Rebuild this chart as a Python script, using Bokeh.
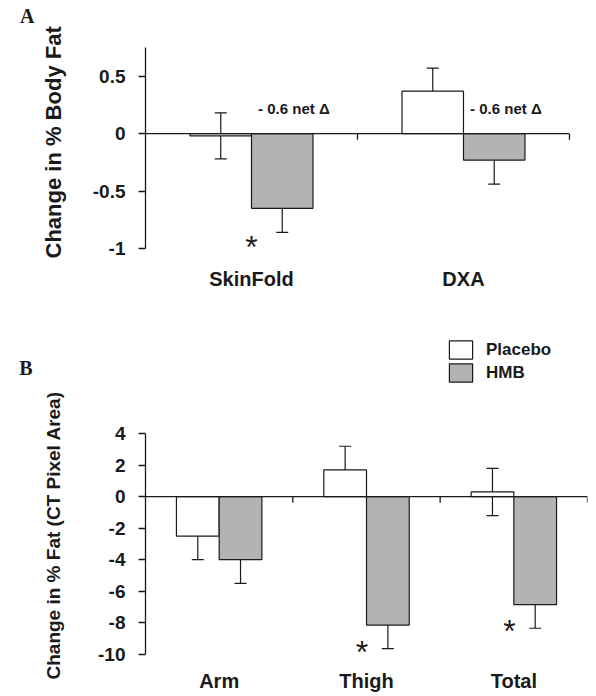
import numpy as np
from bokeh.plotting import figure
from bokeh.layouts import column
from bokeh.models import (ColumnDataSource, Range1d, FixedTicker, Whisker, TeeHead,
                          Title, Legend, LegendItem, LinearAxis)
from bokeh.core.properties import value
from bokeh.embed import file_html
from bokeh.resources import INLINE

# ---------------- data ----------------
# Panel A: change in % body fat
categories_a = ["SkinFold", "DXA"]
placebo_a = [-0.02, 0.37]
placebo_err_a = [0.20, 0.20]
hmb_a = [-0.65, -0.23]
hmb_err_a = [0.21, 0.21]
significant_a = [True, False]
net_text_a = ["- 0.6 net \u0394", "- 0.6 net \u0394"]
yticks_a = [0.5, 0, -0.5, -1]
ytick_labels_a = ["0.5", "0", "-0.5", "-1"]

# Panel B: change in % fat (CT pixel area)
categories_b = ["Arm", "Thigh", "Total"]
placebo_b = [-2.5, 1.7, 0.3]
placebo_err_b = [1.5, 1.5, 1.5]
hmb_b = [-4.0, -8.15, -6.85]
hmb_err_b = [1.5, 1.5, 1.5]
significant_b = [False, True, True]
yticks_b = [4, 2, 0, -2, -4, -6, -8, -10]
ytick_labels_b = ["4", "2", "0", "-2", "-4", "-6", "-8", "-10"]

series_names = ["Placebo", "HMB"]

# ---------------- style ----------------
FONT = "Liberation Sans"
SERIF = "Liberation Serif"
HMB_FILL = "#b3b3b3"
INK = "#1a1a1a"
BAR_W = 0.29
OFF = 0.145
FIG_W = 590
BORDER_L = 145
BORDER_R = 3


def base_figure(height, x_end, y0, y1, border_bottom):
    p = figure(width=FIG_W, height=height, x_range=Range1d(0, x_end), y_range=Range1d(y0, y1),
               output_backend="svg", toolbar_location=None, title=None,
               min_border_left=BORDER_L, min_border_right=BORDER_R,
               min_border_top=0, min_border_bottom=border_bottom)
    p.xgrid.visible = False
    p.ygrid.visible = False
    p.outline_line_color = None
    p.background_fill_color = "white"
    p.border_fill_color = "white"
    return p


def style_axes(p, cats, yticks, ylabels, bounds, cat_standoff):
    n = len(cats)
    centers = [i + 0.5 for i in range(n)]
    ya = p.yaxis[0]
    ya.ticker = FixedTicker(ticks=yticks)
    ya.major_label_overrides = dict(zip(yticks, ylabels))
    ya.bounds = bounds
    ya.axis_line_color = INK
    ya.axis_line_width = 1.3
    ya.major_tick_line_color = INK
    ya.major_tick_line_width = 1.3
    ya.major_tick_out = 7
    ya.major_tick_in = 0
    ya.minor_tick_line_color = None
    ya.major_label_standoff = 13
    ya.major_label_text_font = FONT
    ya.major_label_text_font_style = "bold"
    ya.major_label_text_font_size = "19px"
    ya.major_label_text_color = INK

    xa = p.xaxis[0]
    xa.ticker = FixedTicker(ticks=centers)
    xa.major_label_overrides = dict(zip(centers, cats))
    xa.axis_line_color = None
    xa.major_tick_line_color = None
    xa.minor_tick_line_color = None
    xa.major_tick_out = 0
    xa.major_tick_in = 0
    xa.major_label_standoff = cat_standoff
    xa.major_label_text_font = FONT
    xa.major_label_text_font_style = "bold"
    xa.major_label_text_font_size = "20px"
    xa.major_label_text_color = INK


def add_side_texts(p, ylabel, ylabel_size, title_offset, title_standoff,
                   letter, letter_y, letter_standoff):
    p.add_layout(Title(text=ylabel, align="left", vertical_align="top",
                       offset=title_offset, standoff=title_standoff,
                       text_font=FONT, text_font_style="bold", text_font_size=ylabel_size,
                       text_color=INK), "left")
    la = LinearAxis(ticker=FixedTicker(ticks=[letter_y]),
                    major_label_overrides={letter_y: letter},
                    axis_line_color=None, major_tick_line_color=None,
                    minor_tick_line_color=None, major_tick_out=0, major_tick_in=0,
                    major_label_standoff=letter_standoff,
                    major_label_text_font=SERIF, major_label_text_font_style="bold",
                    major_label_text_font_size="20px", major_label_text_color=INK)
    p.add_layout(la, "left")


def draw_bars(p, placebo, placebo_err, hmb, hmb_err, frame_h):
    n = len(placebo)
    yr = p.y_range
    px = (yr.end - yr.start) / frame_h          # data units per pixel
    xp = [i + 0.5 - OFF for i in range(n)]
    xh = [i + 0.5 + OFF for i in range(n)]
    r_pl = p.vbar(x=xp, top=placebo, bottom=0, width=BAR_W, fill_color="white",
                  line_color=INK, line_width=1.2)
    r_hmb = p.vbar(x=xh, top=hmb, bottom=0, width=BAR_W, fill_color=HMB_FILL,
                   line_color=INK, line_width=1.2)
    # zero axis line with downward ticks at category boundaries
    p.segment(x0=[0], y0=[0], x1=[n], y1=[0], line_color=INK, line_width=1.3)
    bx = [i + 1 for i in range(n)]
    p.segment(x0=bx, y0=[0] * n, x1=bx, y1=[-6 * px] * n, line_color=INK, line_width=1.3)
    # error bars
    for xs, vals, errs in ((xp, placebo, placebo_err), (xh, hmb, hmb_err)):
        src = ColumnDataSource(dict(x=xs,
                                    lo=[v - e for v, e in zip(vals, errs)],
                                    hi=[v + e for v, e in zip(vals, errs)]))
        w = Whisker(base="x", lower="lo", upper="hi", source=src,
                    line_color=INK, line_width=1.2,
                    upper_head=TeeHead(size=12, line_color=INK, line_width=1.2),
                    lower_head=TeeHead(size=12, line_color=INK, line_width=1.2))
        p.add_layout(w)
    return r_pl, r_hmb, px


def draw_stars(p, hmb, hmb_err, sig, px, gap_px, dx):
    xs, ys = [], []
    for i, (v, e, s) in enumerate(zip(hmb, hmb_err, sig)):
        if s:
            xs.append(i + 0.5 + dx)
            ys.append(v - e - gap_px * px - 4 * px)
    p.text(x=xs, y=ys, text=["*"] * len(xs), text_font=value(FONT),
           text_font_size="32px", text_color=INK, text_align="center",
           text_baseline="middle")


# ---------------- panel A ----------------
HA, BOTA = 318, 62
pA = base_figure(HA, 2.085, -1.0697, 1.159, BOTA)
style_axes(pA, categories_a, yticks_a, ytick_labels_a, (-1, 0.75), 11)
_, _, pxA = draw_bars(pA, placebo_a, placebo_err_a, hmb_a, hmb_err_a, HA - BOTA)
draw_stars(pA, hmb_a, hmb_err_a, significant_a, pxA, 11, 0.0)
pA.text(x=[i + 0.5 + 0.2 for i in range(len(categories_a))], y=[0.22] * len(categories_a),
        text=net_text_a, text_font=value(FONT), text_font_style="bold",
        text_font_size="15px", text_color=INK, text_align="center", text_baseline="middle")
add_side_texts(pA, "Change in % Body Fat", "22px", -2, 44, "A", 1.02, -16)

# ---------------- panel B ----------------
HB, BOTB = 376, 32
pB = base_figure(HB, 3, -10.462, 11.31, BOTB)
style_axes(pB, categories_b, yticks_b, ytick_labels_b, (-10, 4), 8)
r_pl, r_hmb, pxB = draw_bars(pB, placebo_b, placebo_err_b, hmb_b, hmb_err_b, HB - BOTB)
draw_stars(pB, hmb_b, hmb_err_b, significant_b, pxB, -1, -0.03)
add_side_texts(pB, "Change in % Fat (CT Pixel Area)", "19px", -18, 60, "B", 8.15, -20)

legend = Legend(items=[LegendItem(label=series_names[0], renderers=[r_pl]),
                       LegendItem(label=series_names[1], renderers=[r_hmb])],
                location=(301, 277), orientation="vertical",
                glyph_width=29, glyph_height=23, label_height=23, spacing=0,
                padding=0, margin=0, label_standoff=11,
                label_text_font=FONT, label_text_font_style="bold",
                label_text_font_size="17px", label_text_color=INK,
                label_text_baseline="middle",
                border_line_color=None, background_fill_alpha=0)
pB.add_layout(legend)

layout = column(pA, pB, spacing=0)
open("out.html", "w").write(file_html(layout, INLINE))
